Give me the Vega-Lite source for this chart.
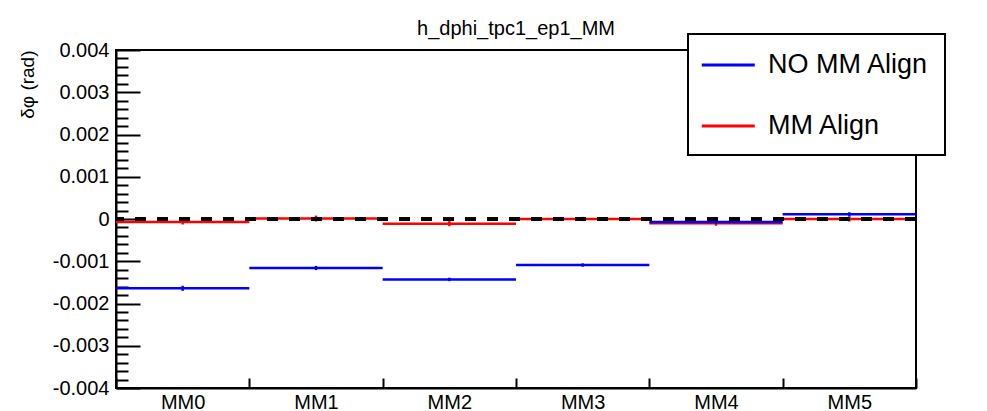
{
  "$schema": "https://vega.github.io/schema/vega-lite/v6.json",
  "width": 800,
  "height": 338,
  "autosize": "none",
  "padding": {"left": 116, "top": 50, "right": 71, "bottom": 23},
  "background": "white",
  "config": {
    "font": "Liberation Sans",
    "view": {"stroke": "black", "strokeWidth": 2},
    "axis": {"labelColor": "black", "titleColor": "black", "domainColor": "black", "tickColor": "black", "labelFont": "Liberation Sans", "titleFont": "Liberation Sans", "grid": false},
    "legend": {"strokeWidth": 2}
  },
  "title": {"text": "h_dphi_tpc1_ep1_MM", "fontSize": 20, "fontWeight": "normal", "font": "Liberation Sans", "color": "black", "anchor": "middle", "frame": "group", "baseline": "bottom", "offset": -26},
  "data": {
    "values": [
      {"mm": "MM0", "series": "MM Align", "value": -0.00007, "err": 0.00006},
      {"mm": "MM1", "series": "MM Align", "value": 0.00001, "err": 0.00007},
      {"mm": "MM2", "series": "MM Align", "value": -0.00011, "err": 0.00006},
      {"mm": "MM3", "series": "MM Align", "value": 0.0, "err": 0.00005},
      {"mm": "MM4", "series": "MM Align", "value": -0.0001, "err": 0.00006},
      {"mm": "MM5", "series": "MM Align", "value": 0.0, "err": 0.00006},
      {"mm": "MM0", "series": "NO MM Align", "value": -0.00164, "err": 0.00006},
      {"mm": "MM1", "series": "NO MM Align", "value": -0.00116, "err": 0.00005},
      {"mm": "MM2", "series": "NO MM Align", "value": -0.00143, "err": 0.00004},
      {"mm": "MM3", "series": "NO MM Align", "value": -0.00109, "err": 0.00004},
      {"mm": "MM4", "series": "NO MM Align", "value": -0.00007, "err": 0.00005},
      {"mm": "MM5", "series": "NO MM Align", "value": 0.00011, "err": 0.00005}
    ]
  },
  "layer": [
    {
      "mark": {"type": "rule", "strokeWidth": 2.5},
      "encoding": {
        "x": {"field": "mm", "type": "nominal", "bandPosition": 0, "sort": null,
          "scale": {"paddingInner": 0, "paddingOuter": 0},
          "axis": {"title": null, "tickBand": "extent", "tickSize": -10, "tickWidth": 2, "domainWidth": 2, "labelPadding": 14, "labelFontSize": 20, "labelAngle": 0}},
        "x2": {"field": "mm", "bandPosition": 1},
        "y": {"field": "value", "type": "quantitative",
          "scale": {"domain": [-0.004, 0.004], "nice": false, "zero": false},
          "axis": {"orient": "left", "title": "δφ (rad)", "titleAnchor": "end", "titleFontSize": 19, "titleFontWeight": "normal", "titlePadding": 15,
            "values": [-0.004, -0.003, -0.002, -0.001, 0, 0.001, 0.002, 0.003, 0.004],
            "labelExpr": "datum.value == 0 ? '0' : (datum.value < 0 ? '-' : '') + format(abs(datum.value), '.3f')",
            "labelFontSize": 20, "tickSize": -24, "tickWidth": 2, "domainWidth": 2, "labelPadding": 31}},
        "color": {"field": "series", "type": "nominal",
          "scale": {"domain": ["NO MM Align", "MM Align"], "range": ["#0000ff", "#ff0000"]},
          "legend": {"orient": "none", "legendX": 572, "legendY": -16, "direction": "vertical", "title": null,
            "symbolType": "M-1.3,0H2.7", "symbolSize": 702, "symbolStrokeWidth": 3,
            "labelFontSize": 27, "labelFont": "Liberation Sans", "labelColor": "black", "labelOffset": 34, "labelLimit": 600,
            "padding": 16, "rowPadding": 33, "strokeColor": "black", "fillColor": "white"}}
      }
    },
    {
      "mark": {"type": "errorbar", "ticks": false, "thickness": 2.5},
      "encoding": {
        "x": {"field": "mm", "type": "nominal", "sort": null},
        "y": {"field": "value", "type": "quantitative", "scale": {"domain": [-0.004, 0.004], "nice": false, "zero": false}, "axis": null},
        "yError": {"field": "err"},
        "color": {"field": "series", "type": "nominal"}
      }
    },
    {
      "mark": {"type": "rule", "color": "black", "strokeWidth": 2.5, "strokeDash": [11, 11]},
      "encoding": {
        "y": {"datum": 0, "type": "quantitative",
          "scale": {"domain": [-0.004, 0.004], "nice": false, "zero": false},
          "axis": {"orient": "left", "title": null, "labels": false, "domain": false, "tickSize": -12, "tickWidth": 2,
            "values": [-0.0038, -0.0036, -0.0034, -0.0032, -0.0028, -0.0026, -0.0024, -0.0022, -0.0018, -0.0016, -0.0014, -0.0012, -0.0008, -0.0006, -0.0004, -0.0002, 0.0002, 0.0004, 0.0006, 0.0008, 0.0012, 0.0014, 0.0016, 0.0018, 0.0022, 0.0024, 0.0026, 0.0028, 0.0032, 0.0034, 0.0036, 0.0038]}}
      }
    }
  ],
  "resolve": {"axis": {"y": "independent"}}
}
